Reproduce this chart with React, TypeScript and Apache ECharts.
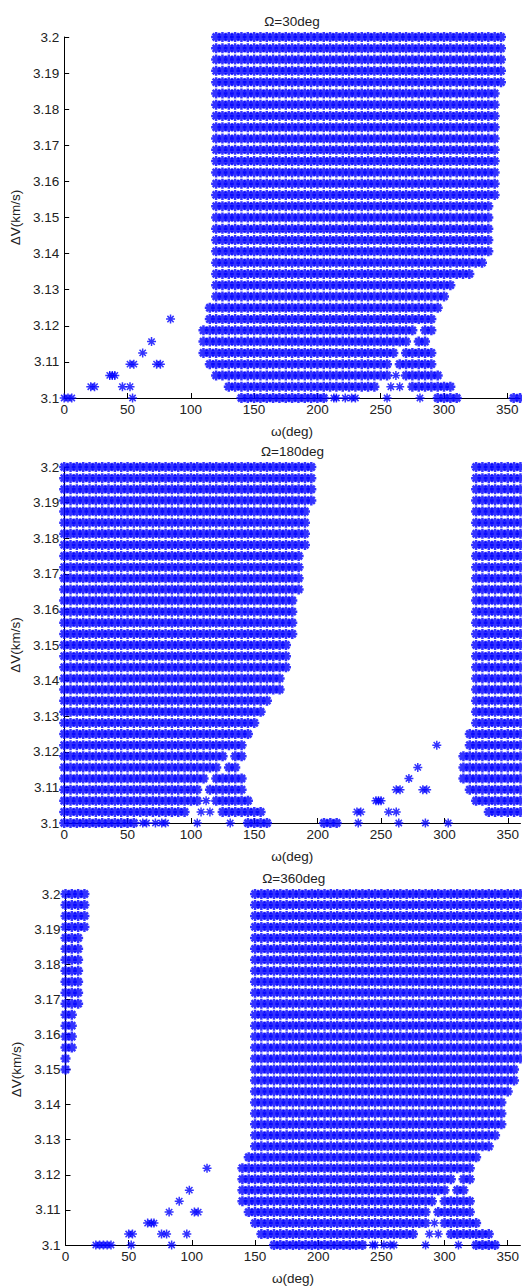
import { useEffect, useRef } from "react";
import * as echarts from "echarts";

// ΔV sampling levels (km/s), from 3.1 to 3.2
const dvLevels = [
  3.1, 3.103125, 3.10625, 3.109375, 3.1125, 3.115625, 3.11875, 3.121875,
  3.125, 3.128125, 3.13125, 3.134375, 3.1375, 3.140625, 3.14375, 3.146875,
  3.15, 3.153125, 3.15625, 3.159375, 3.1625, 3.165625, 3.16875, 3.171875,
  3.175, 3.178125, 3.18125, 3.184375, 3.1875, 3.190625, 3.19375, 3.196875, 3.2,
];
// ω sampling step (deg) inside the feasible bands
const omegaStep = 5;

const omegaTicks = [0, 50, 100, 150, 200, 250, 300, 350];
const dvTicks = [3.1, 3.11, 3.12, 3.13, 3.14, 3.15, 3.16, 3.17, 3.18, 3.19, 3.2];

// Feasible bands: [ΔV level index, ω from, ω to]
const bands30: number[][] = [
  [32, 120, 345], [31, 120, 345], [30, 120, 345], [29, 120, 345], [28, 120, 345],
  [27, 120, 340], [26, 120, 340], [25, 120, 340], [24, 120, 340], [23, 120, 340],
  [22, 120, 340], [21, 120, 340], [20, 120, 340], [19, 120, 340], [18, 120, 340],
  [17, 120, 335], [16, 120, 335], [15, 120, 335], [14, 120, 335],
  [13, 120, 335], [12, 120, 330], [11, 120, 320], [10, 120, 305], [9, 120, 300],
  [8, 115, 295], [7, 115, 290],
  [6, 110, 275], [6, 285, 290],
  [5, 110, 270], [5, 280, 285],
  [4, 110, 260], [4, 270, 290],
  [3, 115, 255], [3, 265, 290],
  [2, 120, 255], [2, 270, 295],
  [1, 130, 245], [1, 275, 305],
  [0, 140, 205], [0, 295, 310], [0, 355, 360],
];
// Isolated feasible points: [ω, ΔV level index]
const points30: number[][] = [
  [84, 7], [69, 5], [62, 4], [52, 3], [55, 3], [73, 3], [76, 3],
  [36, 2], [38, 2], [40, 2], [262, 2],
  [21, 1], [24, 1], [46, 1], [52, 1], [258, 1], [265, 1],
  [0, 0], [3, 0], [6, 0], [54, 0], [213, 0], [215, 0], [222, 0], [227, 0],
  [230, 0], [255, 0], [281, 0],
];

const bands180: number[][] = [
  [32, 0, 195], [32, 325, 360], [31, 0, 195], [31, 325, 360],
  [30, 0, 195], [30, 325, 360], [29, 0, 195], [29, 325, 360],
  [28, 0, 190], [28, 325, 360], [27, 0, 190], [27, 325, 360],
  [26, 0, 190], [26, 325, 360], [25, 0, 190], [25, 325, 360],
  [24, 0, 185], [24, 325, 360], [23, 0, 185], [23, 325, 360],
  [22, 0, 185], [22, 325, 360], [21, 0, 185], [21, 325, 360],
  [20, 0, 180], [20, 325, 360], [19, 0, 180], [19, 325, 360],
  [18, 0, 180], [18, 325, 360], [17, 0, 180], [17, 325, 360],
  [16, 0, 175], [16, 325, 360], [15, 0, 175], [15, 325, 360],
  [14, 0, 175], [14, 325, 360], [13, 0, 170], [13, 325, 360],
  [12, 0, 170], [12, 325, 360], [11, 0, 160], [11, 325, 360],
  [10, 0, 155], [10, 325, 360], [9, 0, 150], [9, 325, 360],
  [8, 0, 145], [8, 320, 360], [7, 0, 140], [7, 320, 360],
  [6, 0, 125], [6, 135, 140], [6, 315, 360],
  [5, 0, 120], [5, 130, 135], [5, 315, 360],
  [4, 0, 110], [4, 120, 140], [4, 315, 360],
  [3, 0, 105], [3, 115, 140], [3, 320, 360],
  [2, 0, 105], [2, 120, 145], [2, 325, 360],
  [1, 0, 95], [1, 125, 155], [1, 335, 360],
  [0, 0, 55], [0, 145, 160], [0, 205, 215],
];
const points180: number[][] = [
  [294, 7], [279, 5], [272, 4], [262, 3], [265, 3], [283, 3], [286, 3],
  [246, 2], [248, 2], [250, 2], [112, 2],
  [231, 1], [234, 1], [256, 1], [262, 1], [108, 1], [115, 1],
  [62, 0], [65, 0], [72, 0], [77, 0], [80, 0], [105, 0], [131, 0],
  [232, 0], [264, 0], [285, 0], [303, 0],
];

const bands360: number[][] = [
  [32, 0, 15], [32, 150, 360], [31, 0, 15], [31, 150, 360],
  [30, 0, 15], [30, 150, 360], [29, 0, 15], [29, 150, 360],
  [28, 0, 10], [28, 150, 360], [27, 0, 10], [27, 150, 360],
  [26, 0, 10], [26, 150, 360], [25, 0, 10], [25, 150, 360],
  [24, 0, 10], [24, 150, 360], [23, 0, 10], [23, 150, 360],
  [22, 0, 10], [22, 150, 360], [21, 0, 5], [21, 150, 360],
  [20, 0, 5], [20, 150, 360], [19, 0, 5], [19, 150, 360],
  [18, 0, 5], [18, 150, 360], [17, 0, 0], [17, 150, 360],
  [16, 0, 0], [16, 150, 355], [15, 150, 355],
  [14, 150, 350], [13, 150, 345], [12, 150, 345], [11, 150, 345],
  [10, 150, 340], [9, 150, 335], [8, 145, 325], [7, 140, 320],
  [6, 140, 305], [6, 315, 320],
  [5, 140, 300], [5, 310, 315],
  [4, 140, 290], [4, 300, 320],
  [3, 145, 285], [3, 295, 320],
  [2, 150, 285], [2, 300, 325],
  [1, 155, 275], [1, 305, 335],
  [0, 165, 235], [0, 325, 340],
];
const points360: number[][] = [
  [112, 7], [98, 5], [90, 4], [82, 3], [102, 3], [105, 3],
  [65, 2], [68, 2], [70, 2], [292, 2],
  [50, 1], [53, 1], [76, 1], [80, 1], [96, 1], [288, 1], [295, 1],
  [24, 0], [27, 0], [30, 0], [33, 0], [36, 0], [52, 0], [84, 0],
  [243, 0], [245, 0], [252, 0], [257, 0], [260, 0], [285, 0], [311, 0],
];

const panels = [
  { title: "Ω=30deg", bands: bands30, points: points30, left: 64, top: 37, width: 456, height: 361 },
  { title: "Ω=180deg", bands: bands180, points: points180, left: 63, top: 467, width: 459, height: 356 },
  { title: "Ω=360deg", bands: bands360, points: points360, left: 65.5, top: 894, width: 456.5, height: 357 },
];

// '*' marker drawn as a plus and a cross
const asterisk = "path://M5,0L5,10M0,5L10,5M1.5,1.5L8.5,8.5M8.5,1.5L1.5,8.5";

function expandBands(bands: number[][]) {
  const out: number[][] = [];
  for (const [k, from, to] of bands) {
    for (let w = from; w <= to + 1e-9; w += omegaStep) out.push([w, dvLevels[k]]);
  }
  return out;
}

const FONT = "Liberation Sans, Arial, Helvetica, sans-serif";
const TEXT = "#222222";
const BLUE = "#0000ff";

export default function App() {
  const ref = useRef<HTMLDivElement>(null);
  useEffect(() => {
    if (!ref.current) return;
    const chart = echarts.init(ref.current, undefined, { renderer: "svg" });
    const grids = panels.map((p) => ({ left: p.left, top: p.top, width: p.width, height: p.height, containLabel: false }));
    const xAxes = panels.map((_, i) => ({
      type: "value",
      gridIndex: i,
      min: 0,
      max: 360,
      interval: 50,
      name: "ω(deg)",
      nameLocation: "middle",
      nameGap: 26,
      nameTextStyle: { color: TEXT, fontSize: 13.5, fontFamily: FONT },
      axisLine: { show: true, lineStyle: { color: "#000", width: 1 } },
      axisTick: { show: true, inside: true, length: 5, lineStyle: { color: "#000" } },
      axisLabel: {
        color: TEXT, fontSize: 13.5, fontFamily: FONT, margin: 4, showMaxLabel: false,
        formatter: (v: number) => (omegaTicks.includes(v) ? String(v) : ""),
      },
      splitLine: { show: false },
    }));
    const yAxes = panels.map((_, i) => ({
      type: "value",
      gridIndex: i,
      min: 3.1,
      max: 3.2,
      interval: 0.01,
      name: "ΔV(km/s)",
      nameLocation: "middle",
      nameGap: 37,
      nameRotate: 90,
      nameTextStyle: { color: TEXT, fontSize: 13.5, fontFamily: FONT },
      axisLine: { show: true, lineStyle: { color: "#000", width: 1 } },
      axisTick: { show: true, inside: true, length: 5, lineStyle: { color: "#000" } },
      axisLabel: {
        color: TEXT, fontSize: 13.5, fontFamily: FONT, margin: 5,
        formatter: (v: number) => {
          const t = dvTicks.find((d) => Math.abs(d - v) < 1e-6);
          return t === undefined ? "" : String(t);
        },
      },
      splitLine: { show: false },
    }));
    const series: any[] = [];
    panels.forEach((p, i) => {
      // dense feasible bands
      series.push({
        type: "scatter",
        xAxisIndex: i,
        yAxisIndex: i,
        data: expandBands(p.bands),
        symbol: asterisk,
        symbolSize: 10,
        clip: false,
        itemStyle: { color: BLUE, borderColor: BLUE, borderWidth: 2.5 },
        emphasis: { disabled: true },
        silent: true,
      });
      // isolated feasible points
      series.push({
        type: "scatter",
        xAxisIndex: i,
        yAxisIndex: i,
        data: p.points.map(([w, k]) => [w, dvLevels[k]]),
        symbol: asterisk,
        symbolSize: 9,
        clip: false,
        itemStyle: { color: BLUE, borderColor: BLUE, borderWidth: 1.5 },
        emphasis: { disabled: true },
        silent: true,
      });
    });
    const graphic = panels.map((p) => ({
      type: "text",
      x: p.left + p.width / 2,
      y: p.top - 16,
      style: {
        text: p.title,
        fill: TEXT,
        font: `13.5px ${FONT}`,
        align: "center",
        verticalAlign: "middle",
        textAlign: "center",
        textVerticalAlign: "middle",
      },
    }));
    chart.setOption({
      animation: false,
      backgroundColor: "#ffffff",
      grid: grids,
      xAxis: xAxes,
      yAxis: yAxes,
      series,
      graphic,
    });
    return () => chart.dispose();
  }, []);
  return <div ref={ref} style={{ position: "absolute", left: 0, top: 0, width: 522, height: 1286 }} />;
}
